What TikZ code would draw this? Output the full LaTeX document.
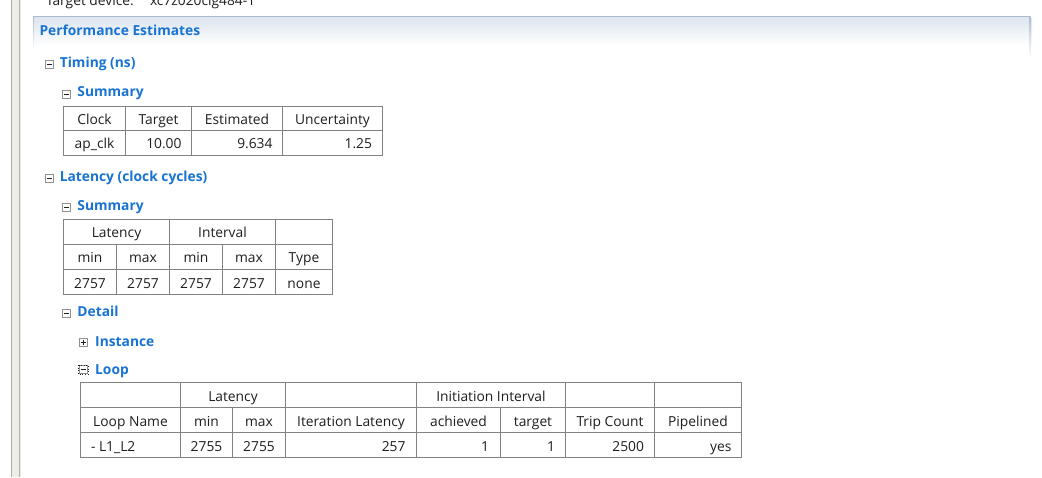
\documentclass[tikz,border=0pt]{standalone}
\usepackage{fontspec}
\setmainfont{Open Sans}
\definecolor{hd}{HTML}{1873D3}
\definecolor{tx}{HTML}{1E1E1E}
\definecolor{gl}{HTML}{828282}
\definecolor{bx}{HTML}{919191}
\definecolor{sidefill}{HTML}{EFEDE7}
\definecolor{sideline}{HTML}{B3AFA7}
\definecolor{hdtop}{HTML}{DCE4EE}
\definecolor{pborder}{HTML}{AABBD0}
\tikzset{
  txt/.style={inner sep=0pt, outer sep=0pt, font=\fontsize{13.8}{16}\selectfont, text=tx},
  cc/.style={txt, anchor=base},
  rr/.style={txt, anchor=base east},
  ll/.style={txt, anchor=base west},
  hdg/.style={inner sep=0pt, outer sep=0pt, anchor=base west, font=\fontsize{13.8}{16}\selectfont\bfseries, text=hd},
  grid/.style={draw=gl, line width=1pt},
  xminus/.pic={\draw[bx, line width=0.8pt, fill=white] (-4,-4) rectangle (4,4); \draw[tx, line width=0.9pt] (-2.5,0) -- (2.5,0);},
  xplus/.pic={\draw[bx, line width=0.8pt, fill=white] (-4,-4) rectangle (4,4); \draw[tx, line width=0.9pt] (-2.5,0) -- (2.5,0) (0,-2.5) -- (0,2.5);},
  xfocus/.pic={\draw[bx, line width=0.8pt, fill=white] (-4,-4) rectangle (4,4); \draw[tx, line width=0.6pt, dotted] (-4.6,-4.6) rectangle (4.6,4.6); \draw[tx, line width=0.9pt] (-2.5,0) -- (2.5,0);}
}
\begin{document}
\begin{tikzpicture}[x=1pt,y=-1pt]
\useasboundingbox (0,0) rectangle (1042,477);
\fill[white] (0,0) rectangle (1042,477);
% left sidebar
\fill[sidefill] (11,0) rectangle (21,477);
\draw[sideline, line width=1pt] (11.5,0) -- (11.5,477);
\draw[sideline, line width=1pt] (19.8,0) -- (19.8,477);
% cut text at the top
\begin{scope}
\clip (0,0) rectangle (1042,477);
\node[ll] (tdev) at (46,5) {Target device:};
\node[ll] (tpart) at (150,5) {xc7z020clg484-1};
\end{scope}
% panel header
\shade[top color=hdtop, bottom color=white] (33,16) rectangle (1030,46);
\draw[pborder, line width=1pt] (34,16.5) -- (1029.5,16.5);
\shade[top color=pborder, bottom color=white] (33,16) rectangle (34,50);
\shade[top color=pborder, bottom color=white] (1029.5,16) rectangle (1030.5,58);
\shade[top color=hdtop, bottom color=white] (1031.2,18) rectangle (1032.2,50);
\node[hdg] (perf) at (39.5,35.5) {Performance Estimates};
% Timing
\pic at (49.5,64) {xminus};
\node[hdg] (timing) at (59.8,67.7) {Timing (ns)};
\pic at (66.5,94.2) {xminus};
\node[hdg] (sum1) at (77.4,96.7) {Summary};
% table 1
\draw[grid] (63.5,106.5) rectangle (382.5,155.5);
\draw[grid] (63.5,130.5) -- (382.5,130.5);
\foreach \x in {125.5,191.5,282.5} \draw[grid] (\x,106.5) -- (\x,155.5);
\node[cc] (a1) at (94.5,124) {Clock};
\node[cc] (a2) at (158.5,124) {Target};
\node[cc] (a3) at (237,124) {Estimated};
\node[cc] (a4) at (332.5,124) {Uncertainty};
\node[cc] (b1) at (94.5,148.5) {ap\_clk};
\node[rr] (b2) at (181.5,148.5) {10.00};
\node[rr] (b3) at (272.5,148.5) {9.634};
\node[rr] (b4) at (372,148.5) {1.25};
% Latency
\pic at (49.5,178.2) {xminus};
\node[hdg] (lat) at (59.8,181.7) {Latency (clock cycles)};
\pic at (66.5,207) {xminus};
\node[hdg] (sum2) at (77.4,210.7) {Summary};
% table 2
\draw[grid] (63.5,219.5) rectangle (332.5,294.5);
\draw[grid] (63.5,244.5) -- (332.5,244.5);
\draw[grid] (63.5,269.5) -- (332.5,269.5);
\foreach \x in {169.5,275.5} \draw[grid] (\x,219.5) -- (\x,294.5);
\foreach \x in {116.5,222.5} \draw[grid] (\x,244.5) -- (\x,294.5);
\node[cc] (c1) at (116.5,237.5) {Latency};
\node[cc] (c2) at (222.5,237.5) {Interval};
\node[cc] (d1) at (90,262.5) {min};
\node[cc] (d2) at (143,262.5) {max};
\node[cc] (d3) at (196,262.5) {min};
\node[cc] (d4) at (249,262.5) {max};
\node[cc] (d5) at (304,262.5) {Type};
\node[cc] (e1) at (90,288) {2757};
\node[cc] (e2) at (143,288) {2757};
\node[cc] (e3) at (196,288) {2757};
\node[cc] (e4) at (249,288) {2757};
\node[cc] (e5) at (304,288) {none};
% Detail
\pic at (66.5,313) {xminus};
\node[hdg] (det) at (77.4,316.7) {Detail};
\pic at (83.2,342.3) {xplus};
\node[hdg] (inst) at (95.2,346.5) {Instance};
\pic at (83.2,369.5) {xfocus};
\node[hdg] (loop) at (95.2,374) {Loop};
% table 3
\draw[grid] (80.5,382.5) rectangle (741.5,457.5);
\draw[grid] (80.5,407.5) -- (741.5,407.5);
\draw[grid] (80.5,432.5) -- (741.5,432.5);
\foreach \x in {180.5,285.5,416.5,565.5,654.5} \draw[grid] (\x,382.5) -- (\x,457.5);
\foreach \x in {232.5,500.5} \draw[grid] (\x,407.5) -- (\x,457.5);
\node[cc] (f1) at (233,401.5) {Latency};
\node[cc] (f2) at (491,401.5) {Initiation Interval};
\node[cc] (g1) at (130.5,426.3) {Loop Name};
\node[cc] (g2) at (206.5,426.3) {min};
\node[cc] (g3) at (259,426.3) {max};
\node[cc] (g4) at (351,426.3) {Iteration Latency};
\node[cc] (g5) at (458.5,426.3) {achieved};
\node[cc] (g6) at (533,426.3) {target};
\node[cc] (g7) at (610,426.3) {Trip Count};
\node[cc] (g8) at (698,426.3) {Pipelined};
\node[ll] (h1) at (91,451) {- L1\_L2};
\node[cc] (h2) at (206.5,451) {2755};
\node[cc] (h3) at (259,451) {2755};
\node[rr] (h4) at (405.5,451) {257};
\node[rr] (h5) at (489,451) {1};
\node[rr] (h6) at (555,451) {1};
\node[rr] (h7) at (644,451) {2500};
\node[rr] (h8) at (731.5,451) {yes};
\end{tikzpicture}
\end{document}
